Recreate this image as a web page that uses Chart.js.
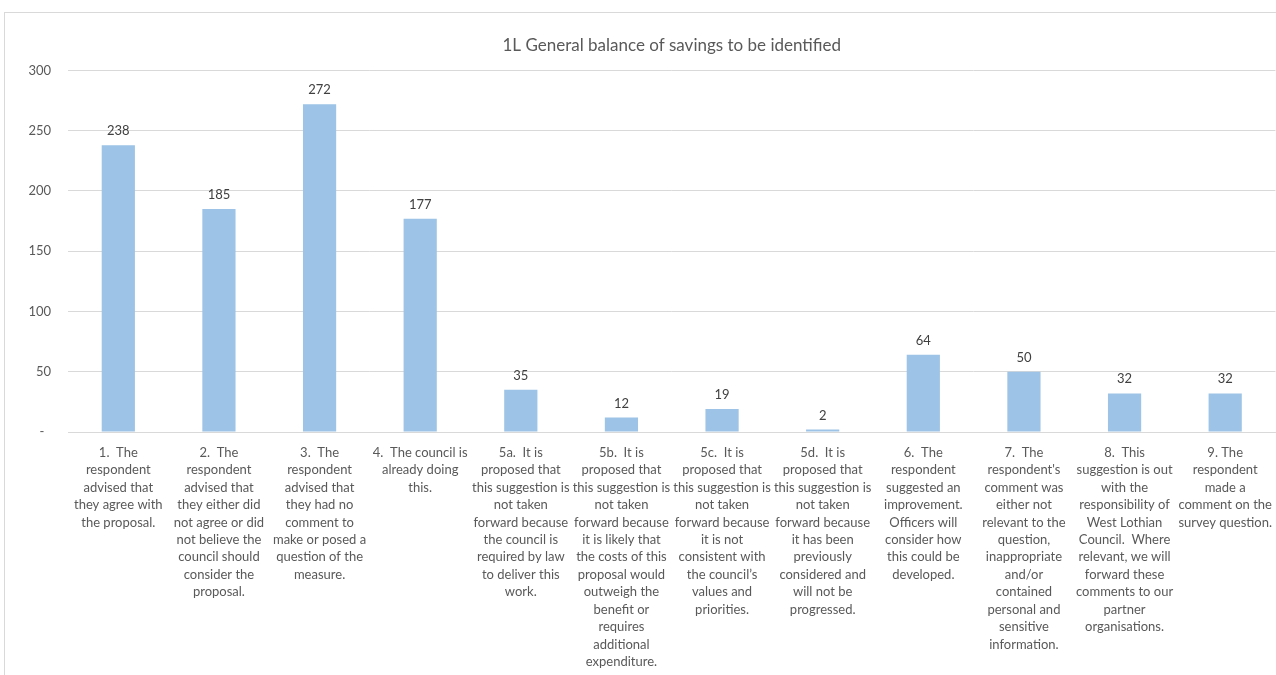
<!DOCTYPE html>
<html>
<head>
<meta charset="utf-8">
<script src="https://cdn.jsdelivr.net/npm/chart.js@4.4.1/dist/chart.umd.min.js"></script>
<style>
  body { margin: 0; background: #fff; overflow: hidden; }
  #frame { position: absolute; left: 4px; top: 12px; width: 1280px; height: 670px;
           border: 1px solid #d9d9d9; box-sizing: border-box; }
  #chart { position: absolute; left: 5px; top: 13px; }
</style>
</head>
<body>
<div id="frame"></div>
<canvas id="chart" width="1271" height="662"></canvas>
<script>
// Response categories, wrapped the way they appear under each bar
const categories = [
  ['1.  The', 'respondent', 'advised that', 'they agree with', 'the proposal.'],
  ['2.  The', 'respondent', 'advised that', 'they either did', 'not agree or did', 'not believe the', 'council should', 'consider the', 'proposal.'],
  ['3.  The', 'respondent', 'advised that', 'they had no', 'comment to', 'make or posed a', 'question of the', 'measure.'],
  ['4.  The council is', 'already doing', 'this.'],
  ['5a.  It is', 'proposed that', 'this suggestion is', 'not taken', 'forward because', 'the council is', 'required by law', 'to deliver this', 'work.'],
  ['5b.  It is', 'proposed that', 'this suggestion is', 'not taken', 'forward because', 'it is likely that', 'the costs of this', 'proposal would', 'outweigh the', 'benefit or', 'requires', 'additional', 'expenditure.'],
  ['5c.  It is', 'proposed that', 'this suggestion is', 'not taken', 'forward because', 'it is not', 'consistent with', 'the council\u2019s', 'values and', 'priorities.'],
  ['5d.  It is', 'proposed that', 'this suggestion is', 'not taken', 'forward because', 'it has been', 'previously', 'considered and', 'will not be', 'progressed.'],
  ['6.  The', 'respondent', 'suggested an', 'improvement.', 'Officers will', 'consider how', 'this could be', 'developed.'],
  ['7.  The', 'respondent\'s', 'comment was', 'either not', 'relevant to the', 'question,', 'inappropriate', 'and/or', 'contained', 'personal and', 'sensitive', 'information.'],
  ['8.  This', 'suggestion is out', 'with the', 'responsibility of', 'West Lothian', 'Council.  Where', 'relevant, we will', 'forward these', 'comments to our', 'partner', 'organisations.'],
  ['9. The', 'respondent', 'made a', 'comment on the', 'survey question.']
];
const responses = [238, 185, 272, 177, 35, 12, 19, 2, 64, 50, 32, 32];
const yTicks = [0, 50, 100, 150, 200, 250, 300];

const FONT = 'Lato, "Open Sans", sans-serif';

// value labels above each bar
const barValues = {
  id: 'barValues',
  afterDatasetsDraw(chart) {
    const c = chart.ctx;
    const meta = chart.getDatasetMeta(0);
    c.save();
    c.font = '13px ' + FONT;
    c.fillStyle = '#404040';
    c.textAlign = 'center';
    c.textBaseline = 'alphabetic';
    meta.data.forEach((bar, i) => {
      c.fillText(String(responses[i]), bar.x, bar.y - 10);
    });
    c.restore();
  }
};

new Chart(document.getElementById('chart'), {
  type: 'bar',
  data: {
    labels: categories,
    datasets: [{
      data: responses,
      backgroundColor: '#9dc3e6',
      borderWidth: 0,
      barPercentage: 0.33,
      categoryPercentage: 1
    }]
  },
  options: {
    responsive: false,
    animation: false,
    layout: { padding: 0 },
    plugins: {
      legend: { display: false },
      tooltip: { enabled: false },
      title: {
        display: true,
        fullSize: false,
        text: '1L General balance of savings to be identified',
        color: '#595959',
        font: { family: FONT, size: 17, weight: 'normal' },
        padding: { top: 22, bottom: 15 }
      }
    },
    scales: {
      x: {
        grid: { display: false },
        border: { color: '#d9d9d9' },
        ticks: {
          autoSkip: false,
          maxRotation: 0,
          minRotation: 0,
          color: '#595959',
          padding: 4,
          font: { family: FONT, size: 13, lineHeight: 1.34 }
        },
        afterFit(scale) { scale.height = 243; }
      },
      y: {
        min: 0,
        max: 300,
        afterBuildTicks(scale) { scale.ticks = yTicks.map(v => ({ value: v })); },
        grid: { color: '#d9d9d9', drawTicks: false },
        border: { display: false },
        ticks: {
          color: '#595959',
          padding: 17,
          font: { family: FONT, size: 13 },
          callback: v => (v === 0 ? '-  ' : v)
        },
        afterFit(scale) { scale.width = 63; }
      }
    }
  },
  plugins: [barValues]
});
</script>
</body>
</html>
